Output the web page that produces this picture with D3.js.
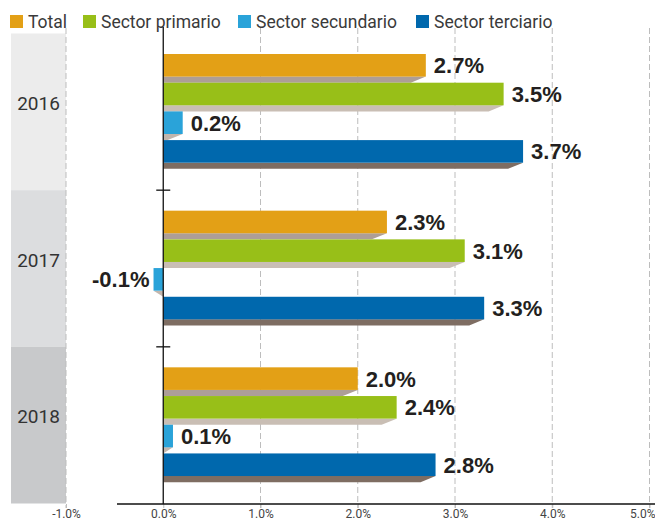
<!DOCTYPE html>
<html>
<head>
<meta charset="utf-8">
<script src="https://cdn.jsdelivr.net/npm/d3@7"></script>
<style>
  html, body { margin: 0; padding: 0; background: #fff; }
  svg { display: block; }
</style>
</head>
<body>
<svg id="chart" width="655" height="520"></svg>
<script>
// ---- data ----
const years = ["2016", "2017", "2018"];
const seriesNames = ["Total", "Sector primario", "Sector secundario", "Sector terciario"];
const total = [2.7, 2.3, 2.0];
const primario = [3.5, 3.1, 2.4];
const secundario = [0.2, -0.1, 0.1];
const terciario = [3.7, 3.3, 2.8];
const xTicks = [-1, 0, 1, 2, 3, 4, 5];

const seriesValues = [total, primario, secundario, terciario];
const barColors = ["#e3a016", "#98bf18", "#2aa3d9", "#0068ad"];
const shadowColors = ["#ad9e97", "#c9beb4", "#c2b6ad", "#7e6d62"];
const panelColors = ["#ececec", "#dcdddf", "#c8c9cb"];

const svg = d3.select("#chart");

const x = d3.scaleLinear().domain([-1, 5]).range([66, 649.5]);
const y = d3.scaleBand().domain(years).range([33.5, 503.5]).padding(0);
const inner = d3.scaleBand().domain(seriesNames).range([20.5, 20.5 + 4 * 28.7]).padding(0);

const faceH = 22.6, shadowH = 6.1, slant = 15;
const axisY = 504;

// year panels
svg.append("g").selectAll("rect").data(years).join("rect")
  .attr("x", 11).attr("width", x(-1) - 11)
  .attr("y", d => y(d)).attr("height", y.bandwidth())
  .attr("fill", (d, i) => panelColors[i]);

svg.append("g").selectAll("text").data(years).join("text")
  .attr("x", (11 + x(-1)) / 2)
  .attr("y", d => y(d) + y.bandwidth() / 2 - 2)
  .attr("text-anchor", "middle")
  .attr("font-family", "Roboto, sans-serif")
  .attr("font-size", 19)
  .attr("fill", "#333")
  .text(d => d);

// gridlines
svg.append("g").selectAll("line").data(xTicks.filter(t => t !== 0)).join("line")
  .attr("x1", d => x(d)).attr("x2", d => x(d))
  .attr("y1", 28).attr("y2", axisY + 4)
  .attr("stroke", "#bdbdbd").attr("stroke-width", 1)
  .attr("stroke-dasharray", "6,3");

// bars
const x0 = x(0);
years.forEach((yr, yi) => {
  const g = svg.append("g");
  seriesNames.forEach((s, si) => {
    const v = seriesValues[si][yi];
    const xv = x(v);
    const top = y(yr) + inner(s);
    const yb = top + faceH;
    let pts;
    if (v >= 0) {
      const br = Math.max(x0, xv - slant);
      pts = [[x0, yb], [xv, yb], [br, yb + shadowH], [x0, yb + shadowH]];
    } else {
      const bl = Math.min(x0, xv + slant);
      pts = [[xv, yb], [x0, yb], [x0, yb + shadowH], [bl, yb + shadowH]];
    }
    g.append("polygon")
      .attr("points", pts.map(p => p.join(",")).join(" "))
      .attr("fill", shadowColors[si]);
    g.append("rect")
      .attr("x", Math.min(x0, xv)).attr("width", Math.abs(xv - x0))
      .attr("y", top).attr("height", faceH)
      .attr("fill", barColors[si]);
    g.append("text")
      .attr("x", v >= 0 ? xv + 8 : xv - 4)
      .attr("y", top + faceH / 2 + 8)
      .attr("text-anchor", v >= 0 ? "start" : "end")
      .attr("font-family", "'Liberation Sans', Arial, sans-serif")
      .attr("font-weight", "bold")
      .attr("font-size", 22)
      .attr("fill", "#231f20")
      .text(v.toFixed(1) + "%");
  });
});

// zero line and group separators
svg.append("line")
  .attr("x1", x0).attr("x2", x0).attr("y1", 27).attr("y2", axisY)
  .attr("stroke", "#111").attr("stroke-width", 1.3);
svg.append("g").selectAll("line").data(years.slice(1)).join("line")
  .attr("x1", x0 - 7).attr("x2", x0 + 7)
  .attr("y1", d => y(d)).attr("y2", d => y(d))
  .attr("stroke", "#111").attr("stroke-width", 1.3);

// bottom axis
const axis = d3.axisBottom(x).tickValues(xTicks)
  .tickFormat(d => d.toFixed(1) + "%").tickSize(4).tickPadding(1);
const ag = svg.append("g").attr("transform", `translate(0,${axisY})`).call(axis);
ag.select(".domain").remove();
ag.selectAll(".tick line").attr("stroke", "#bdbdbd");
ag.selectAll(".tick text")
  .attr("font-family", "Roboto, sans-serif")
  .attr("font-size", 12)
  .attr("fill", "#444");
// keep the last label inside the frame
ag.selectAll(".tick text").filter(d => d === xTicks[xTicks.length - 1])
  .attr("text-anchor", "end").attr("x", 655 - x(xTicks[xTicks.length - 1]));
svg.append("line")
  .attr("x1", 117).attr("x2", 655).attr("y1", axisY).attr("y2", axisY)
  .attr("stroke", "#111").attr("stroke-width", 1.5);

// legend
const legendX = [10, 83, 238, 416];
const lg = svg.append("g").selectAll("g").data(seriesNames).join("g")
  .attr("transform", (d, i) => `translate(${legendX[i]},0)`);
lg.append("rect").attr("x", 0).attr("y", 15).attr("width", 13).attr("height", 13)
  .attr("fill", (d, i) => barColors[i]);
lg.append("text").attr("x", 18).attr("y", 28.3)
  .attr("font-family", "Roboto, sans-serif")
  .attr("font-size", 17.5)
  .attr("fill", "#3a3a3a")
  .text(d => d);
</script>
</body>
</html>
